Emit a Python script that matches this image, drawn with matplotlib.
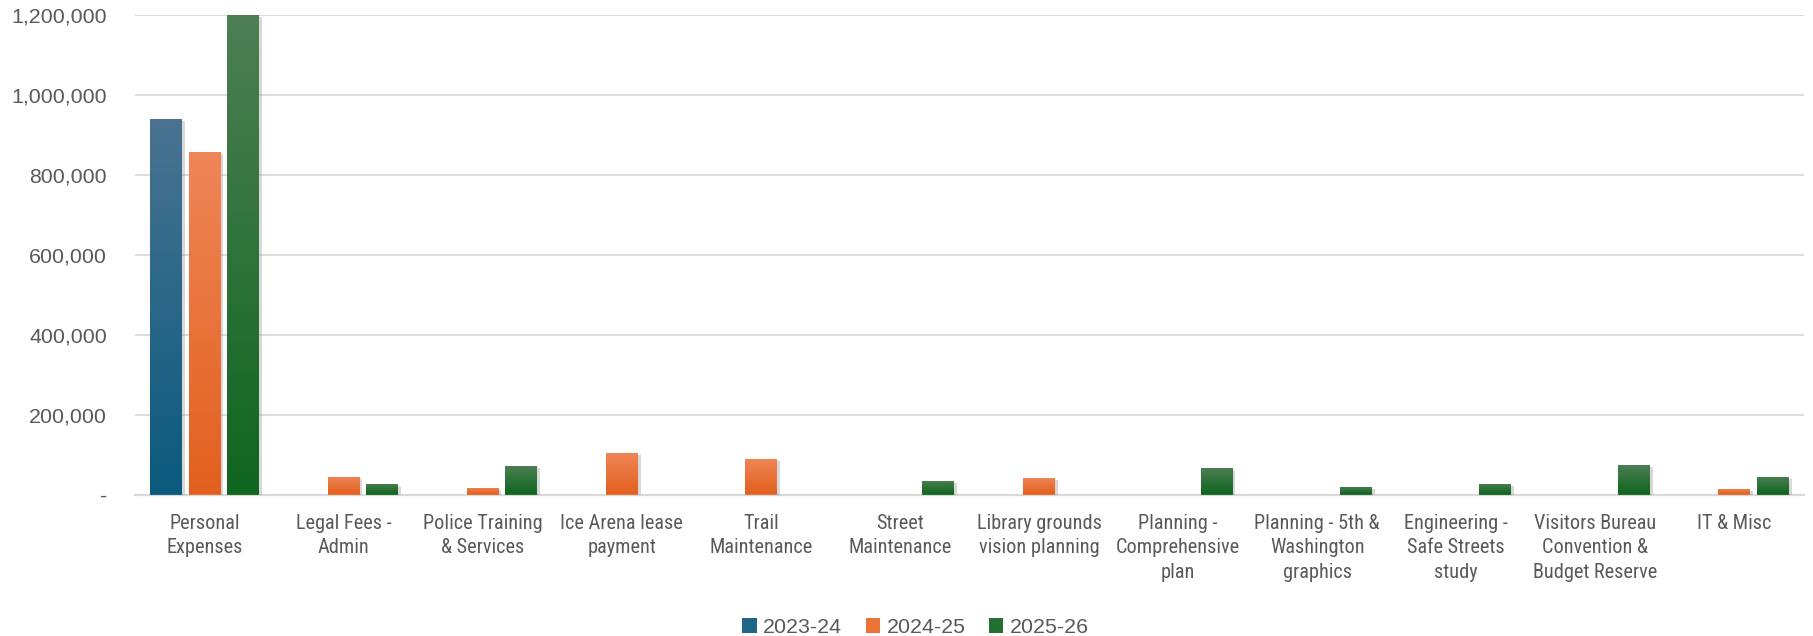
import numpy as np
import matplotlib
matplotlib.use("Agg")
import matplotlib.pyplot as plt
from matplotlib.patches import Patch
from matplotlib.transforms import ScaledTranslation
import matplotlib.patheffects as pe
from matplotlib.colors import to_rgb
from matplotlib import font_manager as fm

categories = ["Personal\nExpenses", "Legal Fees -\nAdmin", "Police Training\n& Services",
              "Ice Arena lease\npayment", "Trail\nMaintenance", "Street\nMaintenance",
              "Library grounds\nvision planning", "Planning -\nComprehensive\nplan",
              "Planning - 5th &\nWashington\ngraphics", "Engineering -\nSafe Streets\nstudy",
              "Visitors Bureau\nConvention &\nBudget Reserve", "IT & Misc"]
series_names = ["2023-24", "2024-25", "2025-26"]
v2023 = [939000, 0, 0, 0, 0, 0, 0, 0, 0, 0, 0, 0]
v2024 = [857000, 45000, 17000, 105000, 88000, 0, 42000, 0, 0, 0, 0, 15000]
v2025 = [1200000, 26000, 72000, 0, 0, 35000, 0, 67000, 20000, 27000, 73000, 45000]
yticks = [0, 200000, 400000, 600000, 800000, 1000000, 1200000]

installed = set(f.name for f in fm.fontManager.ttflist)
narrow = [f for f in ["Roboto Condensed", "Fira Sans Condensed", "Archivo Narrow",
                      "PT Sans Narrow", "Liberation Sans Narrow"] if f in installed][:1]
narrow_fam = narrow + ["Liberation Sans", "DejaVu Sans"]
main_fam = ["Liberation Sans", "DejaVu Sans"]

# gradient colours (top, bottom) per series
grad = [("#4a7391", "#0b5a7e"), ("#ef8658", "#e2601e"), ("#4e7f55", "#0f661f")]
mid = ["#1f6587", "#ec7235", "#237030"]
txt = "#595959"

fig = plt.figure(figsize=(18.13, 6.36), dpi=100)
ax = fig.add_axes([135/1813, 141.5/636, (1804-135)/1813, (494.5-14.7)/636])

x = np.arange(len(categories))
width = 0.23
step = 0.277
for i, vals in enumerate([v2023, v2024, v2025]):
    bars = ax.bar(x + (i - 1) * step, vals, width, color=mid[i], linewidth=0, zorder=3,
                  path_effects=[pe.SimplePatchShadow(offset=(2, -1.5), shadow_rgbFace="#808080", alpha=0.3),
                                pe.Normal()])
    top, bot = np.array(to_rgb(grad[i][0])), np.array(to_rgb(grad[i][1]))
    t = np.linspace(0, 1, 256)[:, None]
    img = (top * (1 - t) + bot * t)[:, None, :]
    for b in bars:
        h = b.get_height()
        if h <= 0:
            continue
        im = ax.imshow(img, extent=(b.get_x(), b.get_x() + b.get_width(), 0, h),
                       aspect="auto", zorder=4, interpolation="bilinear")
        im.set_clip_path(b)

ax.set_xlim(-0.5, len(categories) - 0.5)
ax.set_ylim(0, 1200000)
ax.set_yticks(yticks)
ax.set_yticklabels([("-" if v == 0 else f"{v:,.0f}") for v in yticks])
ax.set_xticks(x)
ax.set_xticklabels(categories, family=narrow_fam, fontsize=14.6, color=txt, linespacing=1.36)
for lab in ax.get_yticklabels():
    lab.set_family(main_fam)
    lab.set_fontsize(15.4)
    lab.set_color(txt)
ylabs = ax.get_yticklabels()
ylabs[0].set_transform(ylabs[0].get_transform() + ScaledTranslation(-11/100, -2/100, fig.dpi_scale_trans))

ax.tick_params(axis="y", length=0, pad=20)
ax.tick_params(axis="x", length=0, pad=14)
ax.grid(axis="y", color="#d9d9d9", linewidth=1.3, zorder=0)
ax.set_axisbelow(True)
for s in ["top", "right", "left"]:
    ax.spines[s].set_visible(False)
ax.spines["bottom"].set_color("#d9d9d9")
ax.spines["bottom"].set_linewidth(1.6)
ax.spines["bottom"].set_zorder(2)

handles = [Patch(facecolor=mid[i], edgecolor="none", label=series_names[i]) for i in range(3)]
leg = fig.legend(handles=handles, loc="lower center", bbox_to_anchor=(0.505, -0.032), ncol=3,
                 frameon=False, prop={"family": main_fam, "size": 15.4},
                 handlelength=0.67, handleheight=0.67, handletextpad=0.3, columnspacing=1.1)
for t_ in leg.get_texts():
    t_.set_color(txt)

fig.savefig("out.png", dpi=100)
